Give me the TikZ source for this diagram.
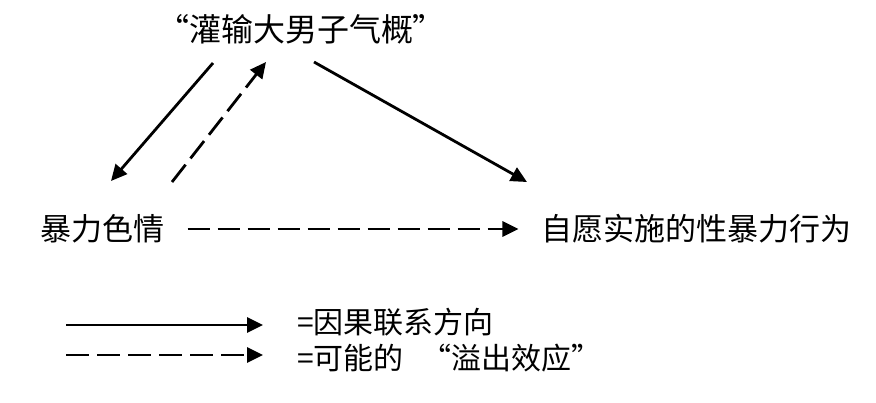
\documentclass[tikz,border=0pt]{standalone}
\usepackage{fontspec}
\setmainfont{Noto Sans CJK SC}
\usetikzlibrary{arrows.meta}

\begin{document}
\begin{tikzpicture}[x=1pt, y=-1pt, font=\fontsize{31}{34}\selectfont,
  causal/.style={line width=2.8pt, -{Triangle[length=16pt, width=15pt]}},
  spill/.style={causal, dash pattern=on 22pt off 8pt},
  key/.style={anchor=west, inner sep=0pt, font=\fontsize{30}{33}\selectfont}]
  \useasboundingbox (0,0) rectangle (876,402);
  \node[font=\fontsize{32}{35}\selectfont] (macho) at (301,29) {“灌输大男子气概”};
  \node (porn) at (102,229) {暴力色情};
  \node (rape) at (696,229) {自愿实施的性暴力行为};
  % ends of the connectors
  \coordinate (a1) at (213,63);  \coordinate (a2) at (111,181);
  \coordinate (b1) at (172,182); \coordinate (b2) at (266,62);
  \coordinate (c1) at (314,62);  \coordinate (c2) at (527,182);
  \draw[causal] (a1) -- (a2);
  \draw[spill] (b1) -- (b2);
  \draw[causal] (c1) -- (c2);
  \draw[spill] ([xshift=20pt]porn.east) -- ([xshift=-19pt]rape.west);
  % legend
  \coordinate (l1) at (66,325); \coordinate (l2) at (263,325);
  \coordinate (m1) at (66,355); \coordinate (m2) at (263,355);
  \draw[causal] (l1) -- (l2);
  \draw[spill, dash pattern=on 23pt off 8pt] (m1) -- (m2);
  \node[key] (cause) at (297,322) {=因果联系方向};
  \node[key] (spillover) at (297,358) {=可能的\hspace{0.6em}“溢出效应”};
\end{tikzpicture}
\end{document}
